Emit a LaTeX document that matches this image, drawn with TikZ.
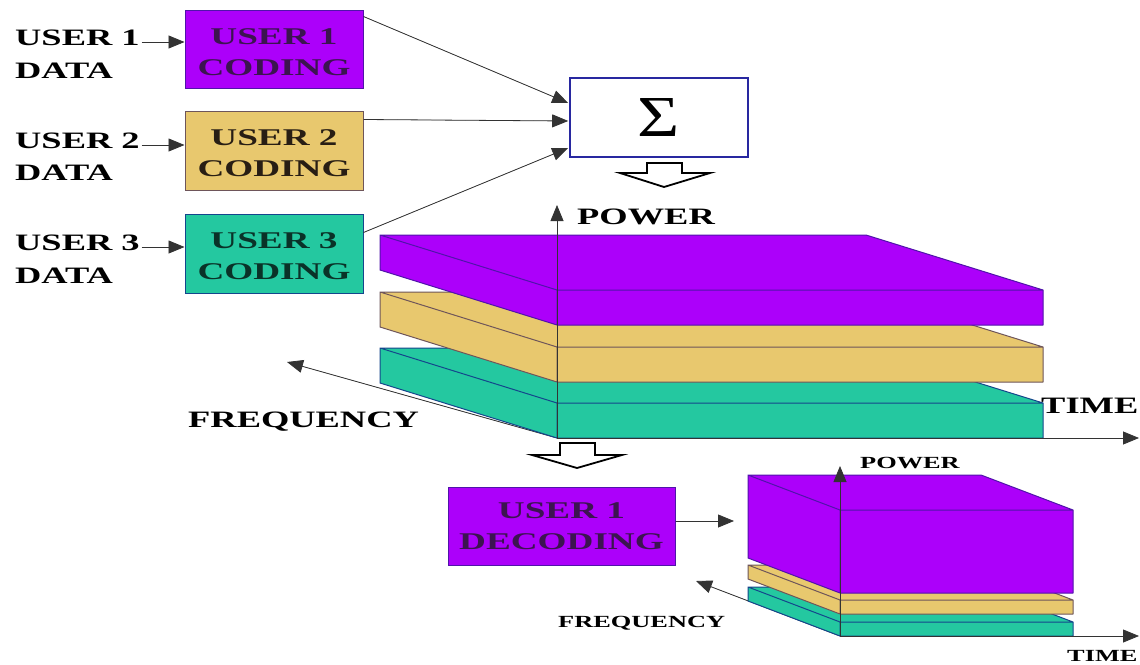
\documentclass[tikz,border=0pt]{standalone}
\usepackage{fontspec}
\setmainfont{Liberation Serif}
\newfontfamily\wf[FakeStretch=1.55]{Liberation Serif}
\usetikzlibrary{arrows.meta,calc}
\definecolor{vio}{RGB}{172,0,250}
\definecolor{vioedge}{RGB}{80,20,170}
\definecolor{viotext}{RGB}{60,20,80}
\definecolor{yel}{RGB}{232,200,110}
\definecolor{yeledge}{RGB}{110,85,90}
\definecolor{yeltext}{RGB}{40,30,20}
\definecolor{tea}{RGB}{36,200,160}
\definecolor{teaedge}{RGB}{20,70,140}
\definecolor{teatext}{RGB}{10,50,40}
\definecolor{sigblue}{RGB}{40,40,160}
\tikzset{
  lab/.style={inner sep=0pt, anchor=base west, font=\wf\bfseries\fontsize{23.5}{26}\selectfont},
  smlab/.style={inner sep=0pt, anchor=base west, font=\wf\bfseries\fontsize{17}{20}\selectfont},
  arr/.style={-{Triangle[length=16pt,width=13pt]}, line width=0.8pt, draw=black!80, fill=black},
  box/.style={minimum width=178pt, minimum height=78pt, inner sep=0pt, align=center, line width=1pt,
              font=\wf\bfseries\fontsize{24}{31}\selectfont},
  hollow/.style={draw=black, line width=1.8pt, fill=white, line join=miter},
}
\newcommand\upstrut{\rule{0pt}{21.5pt}}
% slab: #1 top y, #2 bottom y, #3 x0, #4 x1, #5 dx, #6 dy, #7 fill, #8 edge
\newcommand\drawslab[8]{%
  \filldraw[fill=#7, draw=#8, line width=1pt, line join=round]
    (#3,#1) -- (#4,#1) -- (#4-#5,#1-#6) -- (#3-#5,#1-#6) -- cycle
    (#3,#1) rectangle (#4,#2)
    (#3,#1) -- (#3,#2) -- (#3-#5,#2-#6) -- (#3-#5,#1-#6) -- cycle;
}
\begin{document}
\begin{tikzpicture}[x=1pt,y=-1pt]
\useasboundingbox (0,0) rectangle (1140,664);
\fill[white] (0,0) rectangle (1140,664);

% coding boxes
\node[box, fill=vio, draw=vioedge, text=viotext] (u1) at (274,49) {\upstrut USER 1\\CODING};
\node[box, fill=yel, draw=yeledge, text=yeltext, minimum height=79pt] (u2) at (274,150.5) {\upstrut USER 2\\CODING};
\node[box, fill=tea, draw=teaedge, text=teatext, minimum height=79pt] (u3) at (274,253.5) {\upstrut USER 3\\CODING};

% user data labels
\node[lab] (l1) at (15,45) {USER 1};
\node[lab] (d1) at (15,78) {DATA};
\node[lab] (l2) at (15,148) {USER 2};
\node[lab] (d2) at (15,180) {DATA};
\node[lab] (l3) at (15,250) {USER 3};
\node[lab] (d3) at (15,283) {DATA};
\path (l1.base east) ++(2,-3) coordinate (a1);
\path (l2.base east) ++(2,-3) coordinate (a2);
\path (l3.base east) ++(2,-3) coordinate (a3);
\draw[arr] (a1) -- (a1 -| u1.west);
\draw[arr] (a2) -- (a2 -| u2.west);
\draw[arr] (a3) -- (a3 -| u3.west);

% summation box
\node[draw=sigblue, line width=1.6pt, minimum width=178pt, minimum height=79pt, inner sep=0pt] (sig) at (659,117.5)
  {\fontsize{58}{58}\selectfont\scalebox{1.25}[1]{Σ}};
\draw[arr] ($(u1.north east)+(0,7)$) -- ($(sig.west)+(-1,-14.5)$);
\draw[arr] ($(u2.north east)+(0,9)$) -- ($(sig.west)+(-1,3.5)$);
\draw[arr] ($(u3.north east)+(0,19)$) -- ($(sig.west)+(-1,30.5)$);

% hollow arrows
\draw[hollow] (647,163) -- (682,163) -- (682,173) -- (710,173) -- (664,187) -- (620,173) -- (647,173) -- cycle;
\draw[hollow] (560,443) -- (595,443) -- (595,455) -- (622,455) -- (577,468) -- (532,455) -- (560,455) -- cycle;

% big stack
\coordinate (O) at (557,438);
\coordinate (F) at (287,362);
\coordinate (P) at (557,205);
\coordinate (T) at (1139,438);
\draw[arr] (O) -- (F);
\drawslab{403}{438}{557}{1043}{177}{55}{tea}{teaedge}
\drawslab{347}{382}{557}{1043}{177}{55}{yel}{yeledge}
\drawslab{290}{325}{557}{1043}{177}{55}{vio}{vioedge}
\draw[arr] (O) -- (P);
\draw[arr] (O) -- (T);
\node[lab] (pw) at (577,224) {POWER};
\node[lab] (fq) at (188,427) {FREQUENCY};
\node[lab] (tm) at (1041,413) {TIME};

% decoding
\node[box, minimum width=227pt, fill=vio, draw=vioedge, text=viotext] (dec) at (561.5,526) {USER 1\\DECODING};
\coordinate (sin) at (734,521);
\draw[arr] (dec.east |- sin) -- (sin);

% small stack
\coordinate (O2) at (840,636);
\coordinate (F2) at (696,581);
\coordinate (P2) at (840,466);
\coordinate (T2) at (1139,636);
\draw[arr] (O2) -- (F2);
\drawslab{622}{636}{840}{1073}{92}{35}{tea}{teaedge}
\drawslab{600}{614}{840}{1073}{92}{35}{yel}{yeledge}
\drawslab{510}{593}{840}{1073}{92}{35}{vio}{vioedge}
\draw[arr] (O2) -- (P2);
\draw[arr] (O2) -- (T2);
\node[smlab] (pw2) at (860,468) {POWER};
\node[smlab] (fq2) at (558,627) {FREQUENCY};
\node[smlab] (tm2) at (1067,661) {TIME};
\end{tikzpicture}
\end{document}
